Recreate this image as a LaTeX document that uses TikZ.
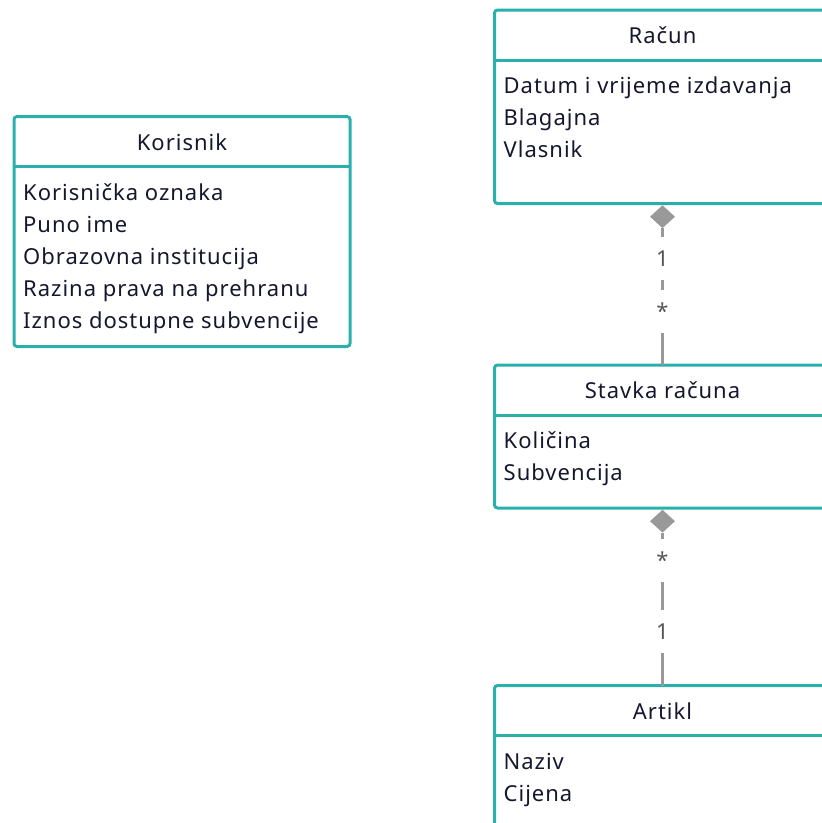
\documentclass[tikz,border=0pt]{standalone}
\usepackage{fontspec}
\setmainfont{Noto Sans}[LetterSpace=4.5]
\usetikzlibrary{shapes}
\definecolor{classTeal}{HTML}{2AB0AA}
\definecolor{textInk}{HTML}{16162E}
\definecolor{linkGray}{HTML}{999999}
\definecolor{multGray}{HTML}{555555}

\begin{document}
\begin{tikzpicture}[x=1pt,y=-1pt]

\def\boxw{336pt}
\def\rowsep{32}

\tikzstyle{classBox}=[rectangle,draw=classTeal,line width=3pt,rounded corners=3pt,minimum width=\boxw,inner sep=0pt,outer sep=0pt]
\tikzstyle{classLine}=[draw=classTeal,line width=3pt]
\tikzstyle{className}=[font=\fontsize{22}{26}\selectfont,text=textInk,anchor=base,inner sep=0pt]
\tikzstyle{attr}=[className,anchor=base west]
\tikzstyle{link}=[draw=linkGray,line width=3pt]
\tikzstyle{compDiamond}=[diamond,fill=linkGray,minimum width=25pt,minimum height=23pt,inner sep=0pt,anchor=north]
\tikzstyle{mult}=[fill=white,text=multGray,font=\fontsize{22}{26}\selectfont,minimum height=43pt,inner sep=1pt]

\clip (0,0) rectangle (822,823);

%Class boxes
\node[classBox,minimum height=230pt] (korisnik) at (182,231.5) {};
\node[classBox,minimum height=193.5pt] (racun) at (662.5,106.75) {};
\node[classBox,minimum height=143pt] (stavka) at (662.5,436.5) {};
\node[classBox,minimum height=143pt] (artikl) at (662.5,757) {};

\foreach \c in {korisnik,racun,stavka,artikl}
  \draw[classLine] ([yshift=-50pt]\c.north west) -- ([yshift=-50pt]\c.north east);

%Names
\node[className] (korisnikName) at ([yshift=-33.5pt]korisnik.north) {Korisnik};
\node[className] (racunName) at ([yshift=-33.5pt]racun.north) {Račun};
\node[className] (stavkaName) at ([yshift=-33.5pt]stavka.north) {Stavka računa};
\node[className] (artiklName) at ([yshift=-33.5pt]artikl.north) {Artikl};

%Attributes
\foreach \a [count=\i] in {Korisnička oznaka,Puno ime,Obrazovna institucija,Razina prava na prehranu,Iznos dostupne subvencije}
  \node[attr] (korisnikAttr\i) at ([xshift=9pt,yshift={-(83.5+(\i-1)*\rowsep)*1pt}]korisnik.north west) {\a};
\foreach \a [count=\i] in {Datum i vrijeme izdavanja,Blagajna,Vlasnik}
  \node[attr] (racunAttr\i) at ([xshift=9pt,yshift={-(83.5+(\i-1)*\rowsep)*1pt}]racun.north west) {\a};
\foreach \a [count=\i] in {Količina,Subvencija}
  \node[attr] (stavkaAttr\i) at ([xshift=9pt,yshift={-(83.5+(\i-1)*\rowsep)*1pt}]stavka.north west) {\a};
\foreach \a [count=\i] in {Naziv,Cijena}
  \node[attr] (artiklAttr\i) at ([xshift=9pt,yshift={-(83.5+(\i-1)*\rowsep)*1pt}]artikl.north west) {\a};

%Compositions
\node[compDiamond] (racunDiamond) at ([yshift=-1.5pt]racun.south) {};
\node[compDiamond] (stavkaDiamond) at ([yshift=-1.5pt]stavka.south) {};

\draw[link] (racunDiamond.south) -- (stavka.north)
  node[mult,pos=0.223] (racunMult) {1}
  node[mult,pos=0.609] (stavkaMultTop) {*};
\draw[link] (stavkaDiamond.south) -- (artikl.north)
  node[mult,pos=0.18] (stavkaMultBottom) {*}
  node[mult,pos=0.647] (artiklMult) {1};

\end{tikzpicture}
\end{document}
